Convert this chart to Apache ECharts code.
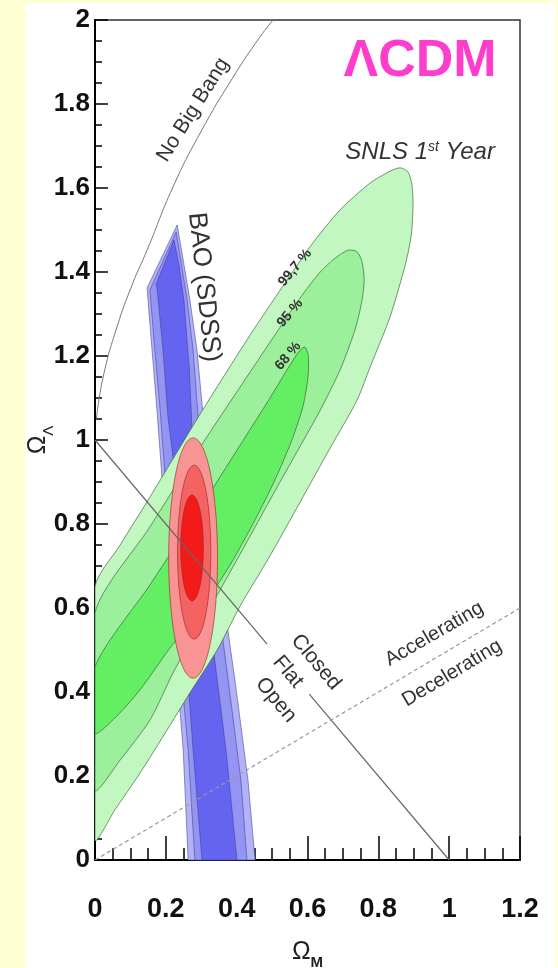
<!DOCTYPE html>
<html>
<head>
<meta charset="utf-8">
<title>ΛCDM constraints</title>
<script src="https://cdn.jsdelivr.net/npm/echarts@6.0.0/dist/echarts.min.js"></script>
<style>
  html, body { margin: 0; padding: 0; background: #FFFFD4; }
  #panel { position: absolute; left: 25px; top: 3px; width: 531px; height: 965px; background: #ffffff; }
  #chart { position: absolute; left: 0; top: 0; width: 558px; height: 968px; }
</style>
</head>
<body>
<div id="panel"></div>
<div id="chart"></div>
<script>
// ---- axis ticks ----
const omegaMTicks = [0, 0.2, 0.4, 0.6, 0.8, 1, 1.2];
const omegaLTicks = [0, 0.2, 0.4, 0.6, 0.8, 1, 1.2, 1.4, 1.6, 1.8, 2];

// ---- BAO (SDSS) confidence band, [Ω_M, Ω_Λ] boundary points ----
const baoOuter = [[0.232,1.512],[0.249,1.429],[0.268,1.333],[0.288,1.214],[0.302,1.088],[0.319,0.952],[0.339,0.786],[0.367,0.595],[0.395,0.429],[0.432,0.190],[0.452,0],[0.263,0],[0.249,0.262],[0.226,0.500],[0.203,0.738],[0.189,0.912],[0.175,1.071],[0.161,1.214],[0.147,1.362]];
const baoMid = [[0.229,1.495],[0.243,1.424],[0.260,1.333],[0.277,1.214],[0.288,1.088],[0.302,0.952],[0.322,0.786],[0.350,0.595],[0.376,0.429],[0.412,0.190],[0.429,0],[0.282,0],[0.263,0.262],[0.237,0.500],[0.215,0.738],[0.198,0.912],[0.184,1.071],[0.169,1.214],[0.155,1.357]];
const baoInner = [[0.223,1.476],[0.237,1.417],[0.251,1.333],[0.266,1.174],[0.274,1.024],[0.288,0.857],[0.308,0.690],[0.331,0.524],[0.370,0.262],[0.401,0],[0.302,0],[0.277,0.262],[0.254,0.524],[0.234,0.762],[0.220,0.960],[0.206,1.055],[0.192,1.214],[0.175,1.362],[0.172,1.370]];

// ---- SNLS 1st year contours (99.7 %, 95 %, 68 %) ----
const snlsOuter = [[0,0.650],[0.071,0.750],[0.155,0.864],[0.297,1.062],[0.438,1.250],[0.523,1.357],[0.607,1.460],[0.692,1.548],[0.777,1.612],[0.833,1.640],[0.862,1.648],[0.884,1.638],[0.895,1.607],[0.898,1.560],[0.893,1.488],[0.876,1.417],[0.833,1.293],[0.777,1.174],[0.740,1.095],[0.664,0.981],[0.579,0.852],[0.494,0.724],[0.410,0.605],[0.345,0.500],[0.268,0.398],[0.198,0.302],[0.127,0.207],[0.056,0.119],[0,0.048]];
const snlsMid = [[0,0.588],[0.155,0.793],[0.297,0.983],[0.438,1.162],[0.523,1.269],[0.579,1.338],[0.636,1.400],[0.678,1.433],[0.715,1.452],[0.740,1.448],[0.754,1.424],[0.760,1.381],[0.754,1.333],[0.734,1.262],[0.692,1.167],[0.636,1.071],[0.565,0.964],[0.494,0.857],[0.424,0.750],[0.353,0.643],[0.282,0.540],[0.220,0.445],[0.155,0.333],[0.071,0.238],[0,0.167]];
const snlsInner = [[0,0.460],[0.155,0.655],[0.297,0.838],[0.410,0.988],[0.494,1.100],[0.551,1.179],[0.579,1.214],[0.593,1.221],[0.602,1.202],[0.602,1.155],[0.588,1.083],[0.556,1.000],[0.508,0.905],[0.452,0.810],[0.381,0.702],[0.297,0.595],[0.212,0.505],[0.127,0.405],[0.056,0.338],[0,0.302]];

// ---- joint SNLS + BAO contours: [centre Ω_M, centre Ω_Λ, half-width, half-height] ----
const jointOuter = [0.277, 0.719, 0.069, 0.286];
const jointMid   = [0.280, 0.733, 0.047, 0.207];
const jointInner = [0.274, 0.743, 0.032, 0.126];

// ---- reference curves ----
const noBigBang = [[0.004,1.05],[0.023,1.150],[0.062,1.269],[0.107,1.374],[0.147,1.452],[0.220,1.602],[0.297,1.731],[0.390,1.864],[0.466,1.960],[0.503,2.0]];
const flatUpper = [[0,1],[0.486,0.514]];
const flatLower = [[0.605,0.395],[1,0]];
const accelBoundary = [[0,0],[1.2,0.6]];

// ---- annotations: text, position [Ω_M, Ω_Λ], angle (deg) ----
const notes = [
  { text: 'No Big Bang', at: [0.277, 1.786], angle: 58, style: { fontSize: 21 } },
  { text: 'BAO (SDSS)', at: [0.308, 1.364], angle: -84, style: { fontSize: 26 } },
  { text: 'SNLS {n|1}{sup|st} Year', at: [0.918, 1.686], angle: 0, style: { fontSize: 24, fontStyle: 'italic' } },
  { text: 'ΛCDM', at: [0.918, 1.900], angle: 0, style: { fontSize: 52, fontWeight: 'bold', fill: '#FF3DCC' } },
  { text: '99,7 %', at: [0.565, 1.410], angle: 50, style: { fontSize: 14, fontWeight: 'bold' } },
  { text: '95 %', at: [0.551, 1.302], angle: 50, style: { fontSize: 14, fontWeight: 'bold' } },
  { text: '68 %', at: [0.545, 1.200], angle: 50, style: { fontSize: 14, fontWeight: 'bold' } },
  { text: 'Closed', at: [0.624, 0.471], angle: -50, style: { fontSize: 21 } },
  { text: 'Flat', at: [0.545, 0.448], angle: -50, style: { fontSize: 21 } },
  { text: 'Open', at: [0.511, 0.381], angle: -50, style: { fontSize: 21 } },
  { text: 'Accelerating', at: [0.958, 0.538], angle: 30, style: { fontSize: 20 } },
  { text: 'Decelerating', at: [1.008, 0.445], angle: 31, style: { fontSize: 20 } }
];

const FONT = 'Liberation Sans, Arial, sans-serif';

function regionSeries(name, regions, z, smooth) {
  return {
    type: 'custom', name: name, z: z, silent: true,
    data: regions.map(function (r) { return r.pts[0]; }),
    renderItem: function (params, api) {
      const r = regions[params.dataIndex];
      const cs = params.coordSys;
      return {
        type: 'polygon',
        shape: {
          points: r.pts.map(function (p) { return api.coord(p); }),
          smooth: smooth,
          smoothConstraint: [[cs.x, cs.y], [cs.x + cs.width, cs.y + cs.height]]
        },
        style: { fill: r.fill, stroke: r.stroke, lineWidth: 0.9 }
      };
    }
  };
}

const jointRegions = [
  { e: jointOuter, fill: '#F89494' },
  { e: jointMid, fill: '#F46262' },
  { e: jointInner, fill: '#F51A1A' }
];

const chart = echarts.init(document.getElementById('chart'), null, { renderer: 'canvas' });

chart.setOption({
  backgroundColor: 'transparent',
  animation: false,
  grid: { left: 95, top: 20, right: 38, bottom: 108, show: true, borderColor: '#333', borderWidth: 1.5, backgroundColor: 'transparent', outerBoundsMode: 'none' },
  xAxis: {
    type: 'value', min: omegaMTicks[0], max: omegaMTicks[omegaMTicks.length - 1], interval: omegaMTicks[1] - omegaMTicks[0],
    name: '{o|Ω}{s|M}', nameLocation: 'middle', nameGap: 80, nameMoveOverlap: false,
    nameTextStyle: { rich: {
      o: { fontSize: 25, fontFamily: FONT, color: '#222', lineHeight: 30, verticalAlign: 'top' },
      s: { fontSize: 15, fontFamily: FONT, fontWeight: 'bold', color: '#222', lineHeight: 15, verticalAlign: 'bottom' }
    } },
    axisLine: { lineStyle: { color: '#000', width: 2 } },
    axisTick: { inside: true, length: 24, lineStyle: { color: '#000', width: 1.5 } },
    minorTick: { show: true, splitNumber: 4, length: 12, lineStyle: { color: '#000', width: 1.5 } },
    splitLine: { show: false },
    axisLabel: { fontFamily: FONT, fontWeight: 'bold', fontSize: 27, color: '#111', margin: 36, showMinLabel: true, showMaxLabel: true }
  },
  yAxis: {
    type: 'value', min: omegaLTicks[0], max: omegaLTicks[omegaLTicks.length - 1], interval: omegaLTicks[1] - omegaLTicks[0],
    name: '{o|Ω}{s|Λ}', nameLocation: 'middle', nameRotate: 90, nameGap: 39, nameMoveOverlap: false,
    nameTextStyle: { rich: {
      o: { fontSize: 25, fontFamily: FONT, color: '#222', lineHeight: 30, verticalAlign: 'top' },
      s: { fontSize: 15, fontFamily: FONT, color: '#222', lineHeight: 15, verticalAlign: 'bottom' }
    } },
    axisLine: { lineStyle: { color: '#000', width: 2 } },
    axisTick: { inside: true, length: 13, lineStyle: { color: '#000', width: 1.5 } },
    minorTick: { show: true, splitNumber: 4, length: 7, lineStyle: { color: '#000', width: 1.5 } },
    splitLine: { show: false },
    axisLabel: { fontFamily: FONT, fontWeight: 'bold', fontSize: 26, color: '#111', margin: 5, showMinLabel: true, showMaxLabel: true }
  },
  series: [
    regionSeries('BAO (SDSS)', [
      { pts: baoOuter, fill: '#B2B2F6', stroke: 'rgba(60,60,150,0.6)' },
      { pts: baoMid, fill: '#9494F2', stroke: 'rgba(60,60,150,0.6)' },
      { pts: baoInner, fill: '#6464F0', stroke: 'rgba(60,60,150,0.6)' }
    ], 2, 0),
    regionSeries('SNLS 1st Year', [
      { pts: snlsOuter, fill: '#C2F7C2', stroke: 'rgba(50,100,50,0.75)' },
      { pts: snlsMid, fill: '#9CF09C', stroke: 'rgba(50,100,50,0.75)' },
      { pts: snlsInner, fill: '#64EE64', stroke: 'rgba(50,100,50,0.75)' }
    ], 3, 0.25),
    {
      type: 'custom', name: 'SNLS + BAO', z: 4, silent: true,
      data: jointRegions.map(function (r) { return [r.e[0], r.e[1]]; }),
      renderItem: function (params, api) {
        const r = jointRegions[params.dataIndex];
        const c = api.coord([r.e[0], r.e[1]]);
        const s = api.size([r.e[2], r.e[3]]);
        return {
          type: 'ellipse',
          shape: { cx: c[0], cy: c[1], rx: s[0], ry: s[1] },
          style: { fill: r.fill, stroke: 'rgba(150,40,40,0.7)', lineWidth: 0.9 }
        };
      }
    },
    { type: 'line', name: 'No Big Bang', data: noBigBang, smooth: true, symbol: 'none', z: 5, silent: true,
      lineStyle: { color: '#777', width: 1 } },
    { type: 'line', name: 'Flat', data: flatUpper, symbol: 'none', z: 5, silent: true,
      lineStyle: { color: '#666', width: 1.2 } },
    { type: 'line', name: 'Flat (lower)', data: flatLower, symbol: 'none', z: 5, silent: true,
      lineStyle: { color: '#666', width: 1.2 } },
    { type: 'line', name: 'q0 = 0', data: accelBoundary, symbol: 'none', z: 5, silent: true,
      lineStyle: { color: '#999', width: 1.2, type: [4, 3] } },
    {
      type: 'custom', name: 'labels', z: 6, silent: true,
      data: notes.map(function (n) { return n.at; }),
      renderItem: function (params, api) {
        const n = notes[params.dataIndex];
        const p = api.coord(n.at);
        const style = Object.assign({
          text: n.text, align: 'center', verticalAlign: 'middle', fill: '#333',
          fontFamily: FONT, fontSize: 20,
          rich: {
            n: { fontSize: 24, fontStyle: 'italic', fontFamily: FONT, fill: '#333' },
            sup: { fontSize: 14, fontStyle: 'italic', fontFamily: FONT, fill: '#333', verticalAlign: 'top', lineHeight: 24 }
          }
        }, n.style);
        return { type: 'text', x: p[0], y: p[1], rotation: n.angle * Math.PI / 180, style: style };
      }
    }
  ]
});
</script>
</body>
</html>
